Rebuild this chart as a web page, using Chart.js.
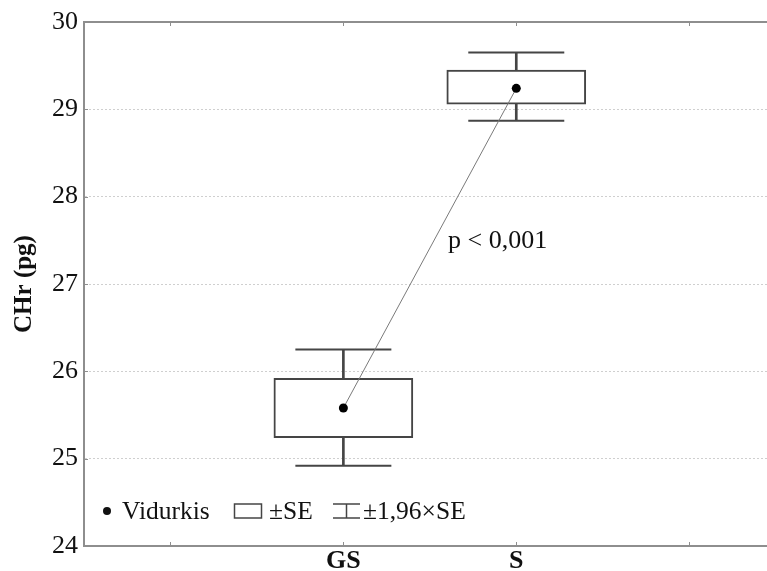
<!DOCTYPE html>
<html>
<head>
<meta charset="utf-8">
<script src="https://cdn.jsdelivr.net/npm/chart.js@4.4.0/dist/chart.umd.min.js"></script>
<style>
  html, body { margin: 0; padding: 0; background: #fff; overflow: hidden; }
  #wrap { width: 767px; height: 571px; position: relative; }
</style>
</head>
<body>
<div id="wrap"><canvas id="chr"></canvas></div>
<script>
// groups on the x axis (positions 1..4, only 2 and 3 are used)
const groups = ["GS", "S"];
const groupPos = [2, 3];
const xTicks = [1, 2, 3, 4];
const yTicks = [24, 25, 26, 27, 28, 29, 30];

// CHr values
const means   = [25.58, 29.24];
const seLow   = [25.24, 29.06];
const seHigh  = [25.92, 29.45];
const ciLow   = [24.92, 28.87];
const ciHigh  = [26.25, 29.65];

const pText = "p < 0,001";
const pAt = { x: 2.605, y: 27.49 };

const serif = "'Liberation Serif', 'Times New Roman', serif";
const boxColor = "#454545";
const axisColor = "#8e8e8e";

const labelFor = v => {
  const i = groupPos.indexOf(v);
  return i >= 0 ? groups[i] : "";
};

// frame top line, inward ticks, p-value text and the legend box
const extras = {
  id: "extras",
  afterDraw(chart) {
    const { ctx, chartArea: a, scales } = chart;
    const xs = scales.x, ys = scales.y;
    ctx.save();
    ctx.strokeStyle = axisColor;
    ctx.lineWidth = 2;
    ctx.beginPath();
    ctx.moveTo(a.left - 1, a.top);
    ctx.lineTo(a.right, a.top);
    ctx.stroke();

    ctx.lineWidth = 1;
    ctx.beginPath();
    xTicks.forEach(v => {
      const px = Math.round(xs.getPixelForValue(v)) + 0.5;
      ctx.moveTo(px, a.bottom); ctx.lineTo(px, a.bottom - 4);
      ctx.moveTo(px, a.top); ctx.lineTo(px, a.top + 4);
    });
    yTicks.slice(1, -1).forEach(v => {
      const py = Math.round(ys.getPixelForValue(v)) + 0.5;
      ctx.moveTo(a.left, py); ctx.lineTo(a.left + 4, py);
    });
    ctx.stroke();

    // p-value
    ctx.fillStyle = "#111";
    ctx.font = "26px " + serif;
    ctx.textBaseline = "middle";
    ctx.textAlign = "left";
    ctx.fillText(pText, xs.getPixelForValue(pAt.x), ys.getPixelForValue(pAt.y));

    // legend
    ctx.font = "25.5px " + serif;
    const ly = a.bottom - 35;
    let lx = a.left + 23;
    ctx.beginPath();
    ctx.arc(lx, ly, 4, 0, Math.PI * 2);
    ctx.fill();
    ctx.fillText("Vidurkis", lx + 15, ly + 1);

    ctx.strokeStyle = boxColor;
    ctx.lineWidth = 1.5;
    ctx.strokeRect(234.5, ly - 7, 27, 14);
    ctx.fillText("\u00b1SE", 269, ly + 1);

    ctx.beginPath();
    ctx.moveTo(333, ly - 7); ctx.lineTo(360, ly - 7);
    ctx.moveTo(346.5, ly - 7); ctx.lineTo(346.5, ly + 7);
    ctx.moveTo(333, ly + 7); ctx.lineTo(360, ly + 7);
    ctx.stroke();
    ctx.fillText("\u00b11,96\u00d7SE", 363, ly + 1);
    ctx.restore();
  }
};

const pts = arr => arr.map((v, i) => ({ x: groupPos[i], y: v }));

new Chart(document.getElementById("chr"), {
  data: {
    datasets: [
      {
        type: "line",
        label: "Vidurkis",
        data: pts(means),
        borderColor: "#7a7a7a",
        borderWidth: 1,
        pointRadius: 4.5,
        pointBackgroundColor: "#000",
        pointBorderWidth: 0,
        order: 0
      },
      {
        type: "bar",
        label: "\u00b1SE",
        data: groupPos.map((x, i) => ({ x: x, y: [seLow[i], seHigh[i]] })),
        backgroundColor: "#fff",
        borderColor: boxColor,
        borderWidth: 2,
        borderSkipped: false,
        barThickness: 139,
        grouped: false,
        order: 1
      },
      {
        type: "line",
        label: "caps",
        data: pts(ciLow).concat(pts(ciHigh)),
        showLine: false,
        pointStyle: "line",
        pointRadius: 48,
        borderColor: boxColor,
        borderWidth: 2,
        order: 2
      },
      {
        type: "bar",
        label: "\u00b11,96\u00d7SE",
        data: groupPos.map((x, i) => ({ x: x, y: [ciLow[i], ciHigh[i]] })),
        backgroundColor: boxColor,
        borderWidth: 0,
        barThickness: 2,
        grouped: false,
        order: 3
      }
    ]
  },
  options: {
    responsive: true,
    maintainAspectRatio: false,
    animation: false,
    layout: { autoPadding: false, padding: { top: 22, right: 0, left: 0, bottom: 0 } },
    plugins: { legend: { display: false }, tooltip: { enabled: false } },
    scales: {
      x: {
        type: "linear",
        offset: false,
        min: 0.5,
        max: 4.45,
        afterBuildTicks: s => { s.ticks = xTicks.map(v => ({ value: v })); },
        afterFit: s => { s.height = 25; },
        grid: { display: false, drawTicks: false, offset: false },
        border: { display: true, color: axisColor, width: 2 },
        ticks: {
          callback: v => labelFor(v),
          autoSkip: false,
          maxRotation: 0,
          padding: 2,
          color: "#111",
          font: { family: serif, size: 26, weight: "bold", lineHeight: 1 }
        }
      },
      y: {
        min: 24,
        max: 30,
        afterBuildTicks: s => { s.ticks = yTicks.map(v => ({ value: v })); },
        afterFit: s => { s.width = 84; },
        grid: {
          drawTicks: false,
          color: c => (c.tick && (c.tick.value === 24 || c.tick.value === 30)) ? "rgba(0,0,0,0)" : "#cfcfcf",
          lineWidth: 1
        },
        border: { display: true, color: axisColor, width: 2, dash: [2, 2] },
        ticks: {
          padding: 6,
          color: "#111",
          font: { family: serif, size: 26 }
        },
        title: {
          display: true,
          text: "CHr (pg)",
          color: "#111",
          padding: { top: 10, bottom: 0 },
          font: { family: serif, size: 25, weight: "bold" }
        }
      }
    }
  },
  plugins: [extras]
});
</script>
</body>
</html>
